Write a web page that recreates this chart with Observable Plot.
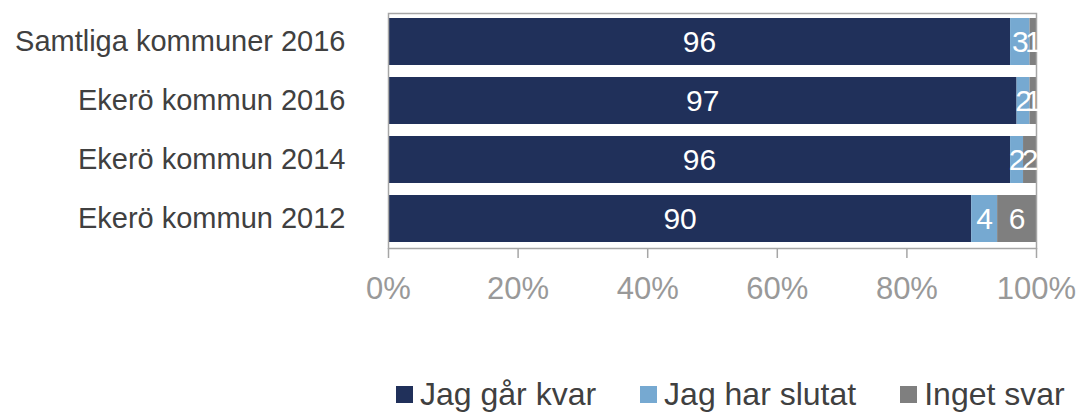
<!DOCTYPE html>
<html>
<head>
<meta charset="utf-8">
<script src="https://cdn.jsdelivr.net/npm/d3@7"></script>
<script src="https://cdn.jsdelivr.net/npm/@observablehq/plot@0.6"></script>
<style>
  html, body { margin: 0; padding: 0; background: #fff; }
  body { position: relative; width: 1083px; height: 414px; overflow: hidden; font-family: "Liberation Sans", Arial, sans-serif; }
  #legend { position: absolute; left: 396px; top: 377px; height: 34px; display: flex; align-items: center; gap: 44px; font-size: 32px; color: #404040; }
  .item { display: flex; align-items: center; gap: 7px; white-space: nowrap; }
  .sw { width: 17px; height: 17px; display: inline-block; }
</style>
</head>
<body>
<div id="chart"></div>
<div id="legend"></div>
<script>
const categories = ["Samtliga kommuner 2016", "Ekerö kommun 2016", "Ekerö kommun 2014", "Ekerö kommun 2012"];
const series = ["Jag går kvar", "Jag har slutat", "Inget svar"];
const kvar   = [96, 97, 96, 90];
const slutat = [3, 2, 2, 4];
const inget  = [1, 1, 2, 6];
const xTicks = [0, 20, 40, 60, 80, 100];
const colors = ["#20305A", "#76A9D1", "#7F7F7F"];

const seriesValues = [kvar, slutat, inget];
const data = [];
series.forEach((s, si) => {
  categories.forEach((c, ci) => {
    data.push({cat: c, series: s, value: seriesValues[si][ci]});
  });
});

const chart = Plot.plot({
  width: 1083,
  height: 330,
  marginTop: 13,
  marginBottom: 82,
  marginLeft: 388,
  marginRight: 47,
  style: {fontFamily: "'Liberation Sans', Arial, sans-serif", background: "#fff"},
  x: {domain: [0, 100]},
  y: {domain: categories, paddingInner: 0.2, paddingOuter: 0.08, align: 0.45},
  color: {domain: series, range: colors},
  marks: [
    Plot.barX(data, Plot.stackX({x: "value", y: "cat", z: "series", fill: "series"})),
    Plot.frame({stroke: "#A6A6A6", strokeWidth: 1.5}),
    Plot.text(data, Plot.stackX({x: "value", y: "cat", z: "series", text: d => String(d.value), fill: "white", fontSize: 30})),
    Plot.axisX({ticks: xTicks, tickFormat: d => d + "%", tickSize: 10, tickPadding: 18, fontSize: 31, stroke: "#A6A6A6", strokeWidth: 1.5, fill: "#999999", label: null}),
    Plot.axisY({tickSize: 0, tickPadding: 43, fontSize: 29, fill: "#404040", label: null})
  ]
});
document.getElementById("chart").appendChild(chart);

const legend = document.getElementById("legend");
series.forEach((s, i) => {
  const item = document.createElement("div");
  item.className = "item";
  const sw = document.createElement("span");
  sw.className = "sw";
  sw.style.background = colors[i];
  const t = document.createElement("span");
  t.textContent = s;
  item.appendChild(sw);
  item.appendChild(t);
  legend.appendChild(item);
});
</script>
</body>
</html>
